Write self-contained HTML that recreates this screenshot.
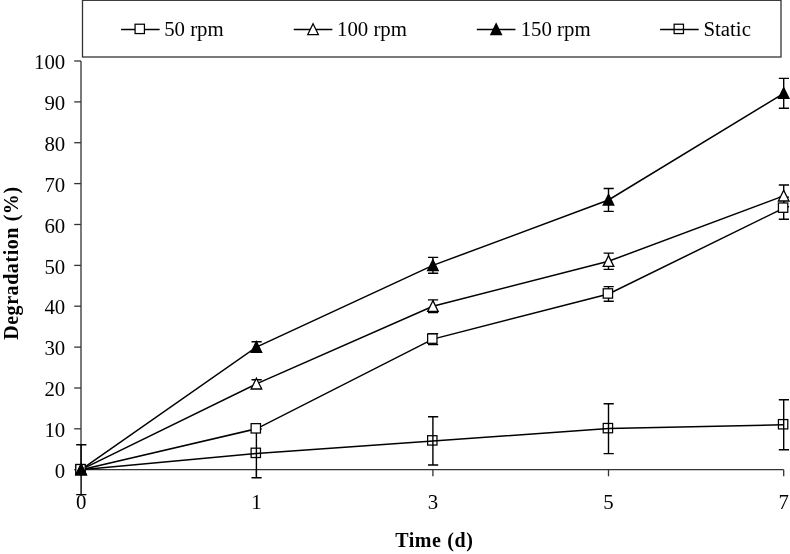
<!DOCTYPE html><html><head><meta charset="utf-8"><style>html,body{margin:0;padding:0;background:#fff}svg{display:block;will-change:transform;filter:grayscale(1)}text{font-family:"Liberation Serif",serif;fill:#000}</style></head><body>
<svg width="790" height="554" viewBox="0 0 790 554">
<rect width="790" height="554" fill="#fff"/>
<rect x="82.5" y="0.3" width="698.5" height="56.7" fill="#fff" stroke="#333" stroke-width="1.3"/>
<g stroke="#333" stroke-width="1.3" fill="none">
<path d="M81 61.0V469.7H783.7"/>
<path d="M74.2 469.7H81"/>
<path d="M74.2 428.8H81"/>
<path d="M74.2 388.0H81"/>
<path d="M74.2 347.1H81"/>
<path d="M74.2 306.2H81"/>
<path d="M74.2 265.4H81"/>
<path d="M74.2 224.5H81"/>
<path d="M74.2 183.6H81"/>
<path d="M74.2 142.7H81"/>
<path d="M74.2 101.9H81"/>
<path d="M74.2 61.0H81"/>
<path d="M81.1 469.7V476.3"/>
<path d="M256.4 469.7V476.3"/>
<path d="M432.9 469.7V476.3"/>
<path d="M608.5 469.7V476.3"/>
<path d="M783.7 469.7V476.3"/>
</g>
<text x="65.2" y="477.8" font-size="20.8" text-anchor="end">0</text>
<text x="65.2" y="436.9" font-size="20.8" text-anchor="end">10</text>
<text x="65.2" y="396.1" font-size="20.8" text-anchor="end">20</text>
<text x="65.2" y="355.2" font-size="20.8" text-anchor="end">30</text>
<text x="65.2" y="314.3" font-size="20.8" text-anchor="end">40</text>
<text x="65.2" y="273.5" font-size="20.8" text-anchor="end">50</text>
<text x="65.2" y="232.6" font-size="20.8" text-anchor="end">60</text>
<text x="65.2" y="191.7" font-size="20.8" text-anchor="end">70</text>
<text x="65.2" y="150.8" font-size="20.8" text-anchor="end">80</text>
<text x="65.2" y="110.0" font-size="20.8" text-anchor="end">90</text>
<text x="65.2" y="69.1" font-size="20.8" text-anchor="end">100</text>
<text x="81.1" y="509.2" font-size="20.8" text-anchor="middle">0</text>
<text x="256.4" y="509.2" font-size="20.8" text-anchor="middle">1</text>
<text x="432.9" y="509.2" font-size="20.8" text-anchor="middle">3</text>
<text x="608.5" y="509.2" font-size="20.8" text-anchor="middle">5</text>
<text x="783.7" y="509.2" font-size="20.8" text-anchor="middle">7</text>
<text x="434.3" y="546.8" font-size="20" letter-spacing="0.6" font-weight="bold" text-anchor="middle">Time (d)</text>
<text transform="translate(17.9,263.1) rotate(-90)" font-size="20" letter-spacing="0.57" font-weight="bold" text-anchor="middle">Degradation (%)</text>
<polyline points="81.1,469.7 256.4,453.4 432.9,440.9 608.5,428.6 783.7,424.7" fill="none" stroke="#000" stroke-width="1.5"/>
<path d="M81.1 444.8V494.6M76.2 444.8h10.2M76.2 494.6h10.2" stroke="#000" stroke-width="1.4" fill="none"/>
<path d="M256.4 429.0V477.7M251.5 429.0h10.2M251.5 477.7h10.2" stroke="#000" stroke-width="1.4" fill="none"/>
<path d="M432.9 416.8V465.0M428.0 416.8h10.2M428.0 465.0h10.2" stroke="#000" stroke-width="1.4" fill="none"/>
<path d="M608.5 403.7V453.6M603.6 403.7h10.2M603.6 453.6h10.2" stroke="#000" stroke-width="1.4" fill="none"/>
<path d="M783.7 399.8V449.7M778.8 399.8h10.2M778.8 449.7h10.2" stroke="#000" stroke-width="1.4" fill="none"/>
<polyline points="81.1,469.7 256.4,428.8 432.9,339.1 608.5,294.0 783.7,208.1" fill="none" stroke="#000" stroke-width="1.5"/>
<path d="M432.9 333.6V344.6M428.0 333.6h10.2M428.0 344.6h10.2" stroke="#000" stroke-width="1.4" fill="none"/>
<path d="M608.5 286.6V301.3M603.6 286.6h10.2M603.6 301.3h10.2" stroke="#000" stroke-width="1.4" fill="none"/>
<path d="M783.7 197.1V219.2M778.8 197.1h10.2M778.8 219.2h10.2" stroke="#000" stroke-width="1.4" fill="none"/>
<polyline points="81.1,469.7 256.4,383.9 432.9,306.2 608.5,261.3 783.7,195.9" fill="none" stroke="#000" stroke-width="1.5"/>
<path d="M256.4 379.8V388.0M251.5 379.8h10.2M251.5 388.0h10.2" stroke="#000" stroke-width="1.4" fill="none"/>
<path d="M432.9 299.9V312.6M428.0 299.9h10.2M428.0 312.6h10.2" stroke="#000" stroke-width="1.4" fill="none"/>
<path d="M608.5 253.1V269.4M603.6 253.1h10.2M603.6 269.4h10.2" stroke="#000" stroke-width="1.4" fill="none"/>
<path d="M783.7 185.0V206.7M778.8 185.0h10.2M778.8 206.7h10.2" stroke="#000" stroke-width="1.4" fill="none"/>
<polyline points="81.1,469.7 256.4,347.1 432.9,265.4 608.5,200.0 783.7,93.3" fill="none" stroke="#000" stroke-width="1.5"/>
<path d="M256.4 341.8V352.4M251.5 341.8h10.2M251.5 352.4h10.2" stroke="#000" stroke-width="1.4" fill="none"/>
<path d="M432.9 257.4V273.3M428.0 257.4h10.2M428.0 273.3h10.2" stroke="#000" stroke-width="1.4" fill="none"/>
<path d="M608.5 188.5V211.4M603.6 188.5h10.2M603.6 211.4h10.2" stroke="#000" stroke-width="1.4" fill="none"/>
<path d="M783.7 78.4V108.2M778.8 78.4h10.2M778.8 108.2h10.2" stroke="#000" stroke-width="1.4" fill="none"/>
<rect x="75.83" y="464.52" width="9.35" height="9.35" fill="none" stroke="#000" stroke-width="1.25"/>
<rect x="251.12" y="448.18" width="9.35" height="9.35" fill="none" stroke="#000" stroke-width="1.25"/>
<rect x="427.62" y="435.71" width="9.35" height="9.35" fill="none" stroke="#000" stroke-width="1.25"/>
<rect x="603.23" y="423.45" width="9.35" height="9.35" fill="none" stroke="#000" stroke-width="1.25"/>
<rect x="778.43" y="419.57" width="9.35" height="9.35" fill="none" stroke="#000" stroke-width="1.25"/>
<rect x="75.83" y="464.52" width="9.35" height="9.35" fill="#fff" stroke="#000" stroke-width="1.25"/>
<rect x="251.12" y="423.65" width="9.35" height="9.35" fill="#fff" stroke="#000" stroke-width="1.25"/>
<rect x="427.62" y="333.95" width="9.35" height="9.35" fill="#fff" stroke="#000" stroke-width="1.25"/>
<rect x="603.23" y="288.78" width="9.35" height="9.35" fill="#fff" stroke="#000" stroke-width="1.25"/>
<rect x="778.43" y="202.96" width="9.35" height="9.35" fill="#fff" stroke="#000" stroke-width="1.25"/>
<path d="M81.10 464.10L86.40 474.85H75.80Z" fill="#fff" stroke="#000" stroke-width="1.3"/>
<path d="M256.40 378.27L261.70 389.02H251.10Z" fill="#fff" stroke="#000" stroke-width="1.3"/>
<path d="M432.90 300.62L438.20 311.37H427.60Z" fill="#fff" stroke="#000" stroke-width="1.3"/>
<path d="M608.50 255.66L613.80 266.41H603.20Z" fill="#fff" stroke="#000" stroke-width="1.3"/>
<path d="M783.70 190.27L789.00 201.02H778.40Z" fill="#fff" stroke="#000" stroke-width="1.3"/>
<path d="M81.10 464.10L86.40 474.85H75.80Z" fill="#000" stroke="#000" stroke-width="1.3"/>
<path d="M256.40 341.49L261.70 352.24H251.10Z" fill="#000" stroke="#000" stroke-width="1.3"/>
<path d="M432.90 259.75L438.20 270.50H427.60Z" fill="#000" stroke="#000" stroke-width="1.3"/>
<path d="M608.50 194.36L613.80 205.11H603.20Z" fill="#000" stroke="#000" stroke-width="1.3"/>
<path d="M783.70 87.69L789.00 98.44H778.40Z" fill="#000" stroke="#000" stroke-width="1.3"/>
<path d="M121.05 29.4H159.65" stroke="#000" stroke-width="1.5"/>
<rect x="135.07" y="24.22" width="9.35" height="9.35" fill="#fff" stroke="#000" stroke-width="1.25"/>
<text x="164.2" y="35.5" font-size="20.8">50 rpm</text>
<path d="M293.75 29.4H332.35" stroke="#000" stroke-width="1.5"/>
<path d="M313.05 23.80L318.35 34.55H307.75Z" fill="#fff" stroke="#000" stroke-width="1.3"/>
<text x="337" y="35.5" font-size="20.8">100 rpm</text>
<path d="M476.85 29.4H515.45" stroke="#000" stroke-width="1.5"/>
<path d="M496.15 23.80L501.45 34.55H490.85Z" fill="#000" stroke="#000" stroke-width="1.3"/>
<text x="520.7" y="35.5" font-size="20.8">150 rpm</text>
<path d="M660.10 29.4H698.70" stroke="#000" stroke-width="1.5"/>
<rect x="674.12" y="24.22" width="9.35" height="9.35" fill="none" stroke="#000" stroke-width="1.25"/>
<text x="703.5" y="35.5" font-size="20.8">Static</text>
</svg></body></html>
